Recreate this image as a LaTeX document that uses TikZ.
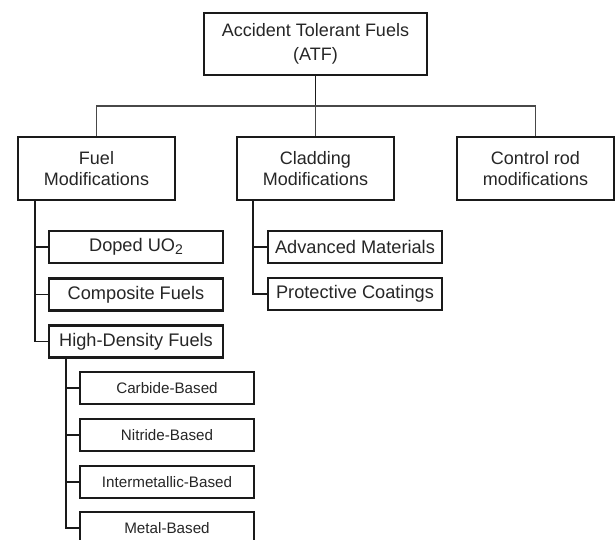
\documentclass[tikz,border=0pt]{standalone}
\usepackage{fontspec}
\setmainfont{Liberation Sans}
\usepackage{xcolor}
\usepackage{tikz}

\definecolor{linha}{HTML}{1A1A1A}
\definecolor{texto}{HTML}{262626}

\tikzset{
  caixa/.style={draw=linha, line width=2.9pt, fill=white, text=texto,
    inner sep=0pt, align=center},
  raiz/.style={caixa, minimum width=223pt, minimum height=62pt,
    font=\fontsize{18}{24}\selectfont},
  ramo/.style={caixa, minimum width=157pt, minimum height=63pt,
    font=\fontsize{18}{21.5}\selectfont},
  item/.style={caixa, minimum width=174pt, minimum height=32pt,
    font=\fontsize{18.2}{20}\selectfont},
  subitem/.style={caixa, minimum width=174pt, minimum height=32pt,
    font=\fontsize{15.2}{17}\selectfont},
  fio/.style={draw=linha, line width=1.8pt},
  fiofino/.style={draw=linha!80, line width=1.2pt}
}

\begin{document}
\begin{tikzpicture}[x=1pt, y=-1pt]

% Área da figura
\clip (0,0) rectangle (616,539);
\fill[white] (0,0) rectangle (616,539);

% Raiz
\node[raiz] (atf) at (315.5,44) {Accident Tolerant Fuels\\(ATF)};

% Ramos principais
\node[ramo] (fuel) at (96.5,168.5) {Fuel\\Modifications};
\node[ramo] (clad) at (315.5,168.5) {Cladding\\Modifications};
\node[ramo] (ctrl) at (535.5,168.5) {Control rod\\modifications};

% Barramento
\coordinate (bus) at (315.5,106);
\draw[fio] (atf.south) -- (bus);
\draw[fiofino] (fuel.north) |- (bus) -| (ctrl.north);
\draw[fiofino] (bus) -- (clad.north);

% Combustível
\node[item] (doped) at (136,247) {Doped UO\raisebox{-0.3ex}{\fontsize{14}{14}\selectfont 2}};
\node[item] (comp) at (136,294.5) {Composite Fuels};
\node[item] (hd) at (136,341.5) {High-Density Fuels};

\coordinate (fueltronco) at (35,200);
\draw[fio] (fueltronco) |- (hd.west);
\foreach \n in {doped,comp}
  \draw[fio] (\n.west) -- (\n.west -| fueltronco);

% Revestimento
\node[item] (adv) at (355,247) {Advanced Materials};
\node[item] (prot) at (355,294) {Protective Coatings};

\coordinate (cladtronco) at (253,200);
\draw[fio] (cladtronco) |- (prot.west);
\draw[fio] (adv.west) -- (adv.west -| cladtronco);

% Alta densidade
\node[subitem] (carb) at (167,388) {Carbide-Based};
\node[subitem] (nitr) at (167,435) {Nitride-Based};
\node[subitem] (inter) at (167,482) {Intermetallic-Based};
\node[subitem] (metal) at (167,528) {Metal-Based};

\coordinate (hdtronco) at (66,357.5);
\draw[fio] (hdtronco) |- (metal.west);
\foreach \n in {carb,nitr,inter}
  \draw[fio] (\n.west) -- (\n.west -| hdtronco);

\end{tikzpicture}
\end{document}
